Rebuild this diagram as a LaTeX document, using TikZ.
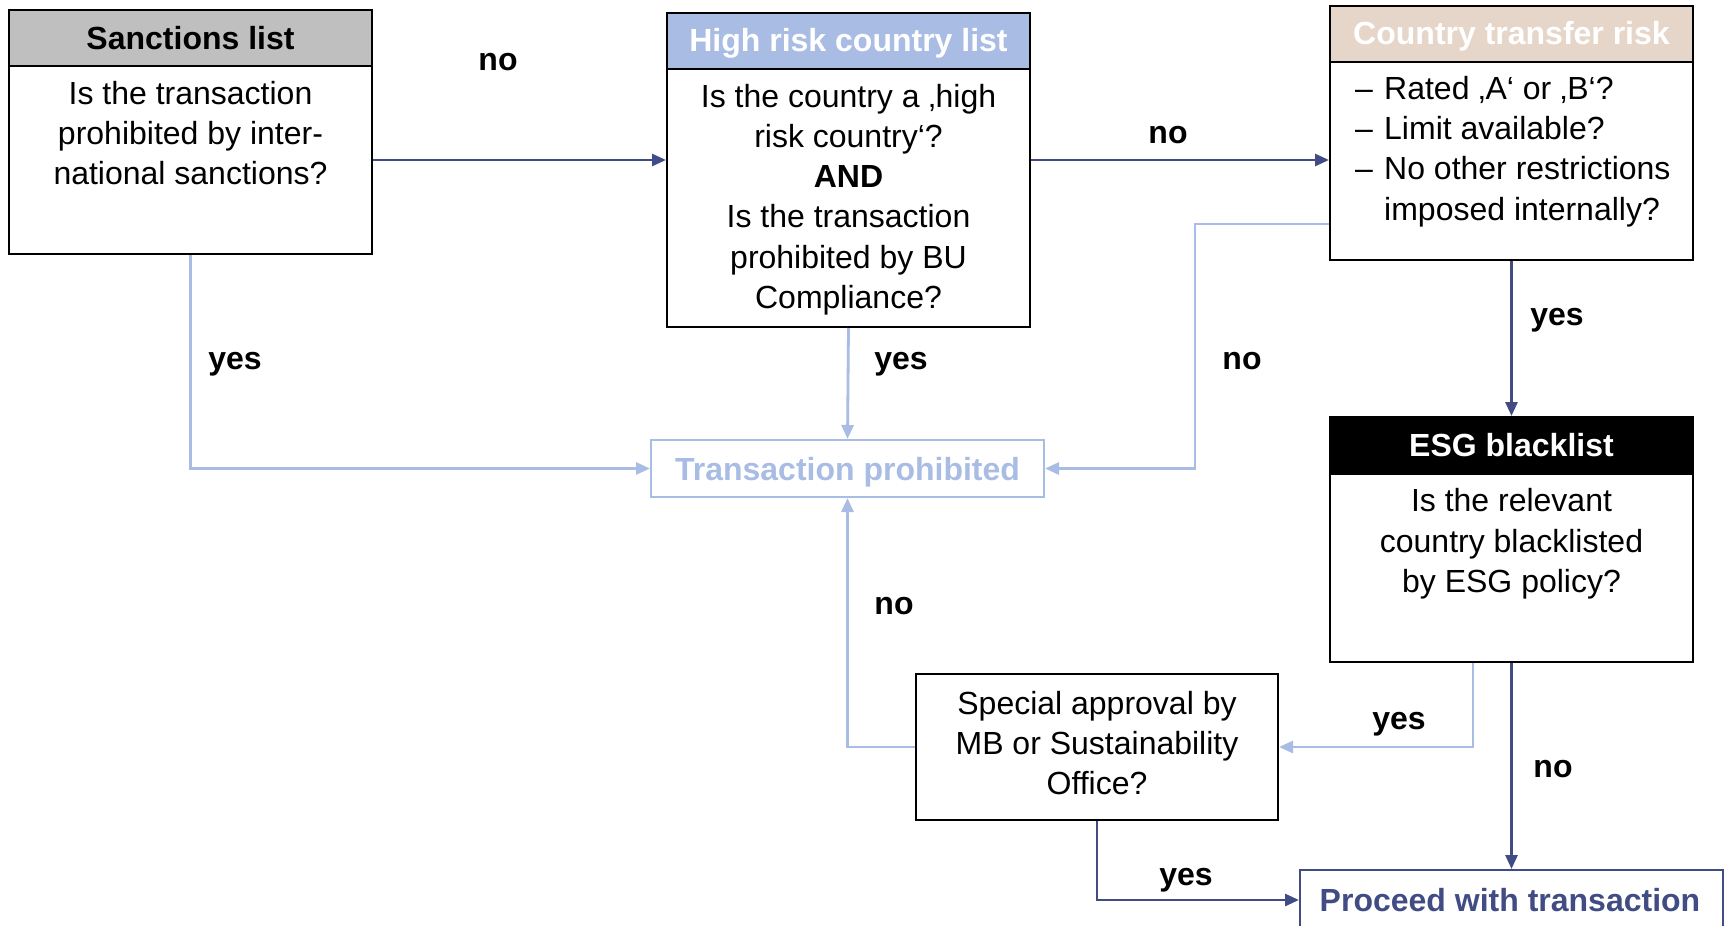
\documentclass[tikz,border=0pt]{standalone}
\usepackage{fontspec}
\setmainfont{Liberation Sans}
\usetikzlibrary{arrows.meta}
\definecolor{navy}{RGB}{66,76,132}
\definecolor{lblue}{RGB}{169,188,228}
\definecolor{hgray}{RGB}{191,191,191}
\definecolor{beige}{RGB}{230,214,201}
\begin{document}
\begin{tikzpicture}[x=1pt,y=-1pt,
 box/.style={draw=black,line width=2pt,inner sep=0pt,fill=white},
 hdr/.style={draw=black,line width=2pt,inner sep=0pt},
 htxt/.style={inner sep=0pt,font=\fontsize{32}{38}\selectfont\bfseries},
 txt/.style={align=center,inner sep=0pt,font=\fontsize{32}{40.3}\selectfont},
 lab/.style={font=\fontsize{32}{38}\selectfont\bfseries,inner sep=0pt},
 darr/.style={draw=navy,line width=2.8pt,-{Triangle[length=14pt,width=12pt]}},
 larr/.style={draw=lblue,line width=2.8pt,-{Triangle[length=14pt,width=12pt]}},
]
\useasboundingbox (0,0) rectangle (1725,926);
% boxes
\node[box,minimum width=363pt,minimum height=244pt] (sanc) at (190.5,132) {};
\node[hdr,fill=hgray,minimum width=363pt,minimum height=56pt,anchor=north] (sanch) at (sanc.north) {};
\node[htxt] (sancl) at (190.5,38) {Sanctions list};
\node[txt] (sanct) at (190.5,133) {Is the transaction\\prohibited by inter-\\national sanctions?};

\node[box,minimum width=363pt,minimum height=314pt] (hr) at (848.5,170) {};
\node[hdr,fill=lblue,minimum width=363pt,minimum height=56pt,anchor=north] (hrh) at (hr.north) {};
\node[htxt,text=white] (hrl) at (848.5,43) {High risk country list};
\node[txt] (hrt) at (848.5,199.5) {Is the country a ‚high\\risk country‘?\\\textbf{AND}\\Is the transaction\\prohibited by BU\\Compliance?};

\node[box,minimum width=363pt,minimum height=254.5pt] (ctr) at (1511.5,132.75) {};
\node[hdr,fill=beige,minimum width=363pt,minimum height=56.5pt,anchor=north] (ctrh) at (ctr.north) {};
\node[htxt,text=white] (ctrl) at (1511.5,36) {Country transfer risk};
\node[txt,align=left,anchor=west] (ctrt) at (1355,151.5) {\makebox[29pt][l]{–}Rated ‚A‘ or ‚B‘?\\\makebox[29pt][l]{–}Limit available?\\\makebox[29pt][l]{–}No other restrictions\\\hspace*{29pt}imposed internally?};

\node[box,minimum width=363pt,minimum height=245pt] (esg) at (1511.5,539.5) {};
\node[hdr,fill=black,minimum width=363pt,minimum height=57pt,anchor=north] (esgh) at (esg.north) {};
\node[htxt,text=white] (esgl) at (1511.5,445) {ESG blacklist};
\node[txt] (esgt) at (1511.5,544) {Is the relevant\\country blacklisted\\by ESG policy?};

\node[draw=lblue,line width=2pt,inner sep=0pt,minimum width=393pt,minimum height=57pt] (tp) at (847.5,468.5) {};
\node[htxt,text=lblue] (tpl) at (847.5,472) {Transaction prohibited};

\node[box,minimum width=362pt,minimum height=146pt] (sa) at (1097,747) {};
\node[txt] (sat) at (1097,743) {Special approval by\\MB or Sustainability\\Office?};

\node[draw=navy,line width=2pt,inner sep=0pt,minimum width=423pt,minimum height=60pt] (pr) at (1511.5,900) {};
\node[htxt,text=navy] (prt) at (1510,900) {Proceed with transaction};

% helper coordinates
\coordinate (y160) at (0,160);
\coordinate (k1) at (1195,224);
\coordinate (k2) at (1473,747);

% connectors
\draw[darr] (sanc.east |- y160) -- (hr.west |- y160);
\draw[darr] (hr.east |- y160) -- (ctr.west |- y160);
\draw[larr] (sanc.south) -- (sanc.south |- tp.west) -- (tp.west);
\draw[larr] (hr.south) -- (tp.north);
\draw[larr] (ctr.west |- k1) -- (k1) -- (k1 |- tp.east) -- (tp.east);
\draw[darr] (ctr.south) -- (esg.north);
\draw[larr] (esg.south -| k2) -- (k2) -- (sa.east);
\draw[darr] (esg.south) -- (pr.north);
\draw[larr] (sa.west) -- (sa.west -| tp.south) -- (tp.south);
\draw[darr] (sa.south) -- (sa.south |- pr.west) -- (pr.west);

% labels
\node[lab] (l1) at (498,62) {no};
\node[lab] (l2) at (1168,135) {no};
\node[lab] (l3) at (235,364) {yes};
\node[lab] (l4) at (901,364) {yes};
\node[lab] (l5) at (1242,361) {no};
\node[lab] (l6) at (1557,320) {yes};
\node[lab] (l7) at (1399,724) {yes};
\node[lab] (l8) at (1553,769) {no};
\node[lab] (l9) at (894,606) {no};
\node[lab] (l10) at (1186,880) {yes};
\end{tikzpicture}
\end{document}
